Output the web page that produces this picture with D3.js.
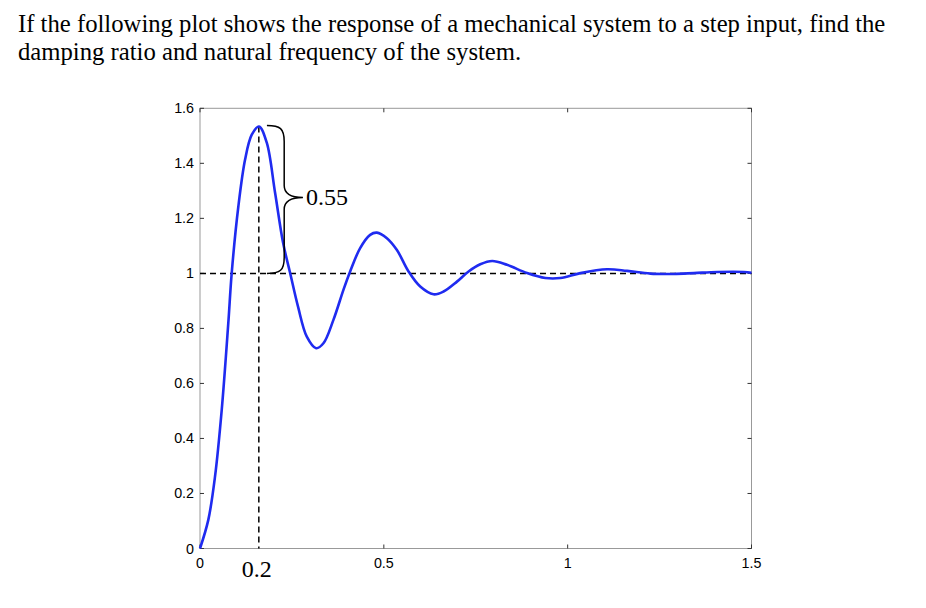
<!DOCTYPE html>
<html><head><meta charset="utf-8">
<script src="https://cdn.jsdelivr.net/npm/d3@7"></script>
<style>
html,body{margin:0;padding:0;background:#fff;}
svg{display:block;}
</style></head>
<body>
<svg id="c" width="926" height="608"></svg>
<script>
// ---- data ----
const titleLines = [
  "If the following plot shows the response of a mechanical system to a step input, find the",
  "damping ratio and natural frequency of the system."
];
const timeValues = [0,0.0226,0.0408,0.0591,0.0770,0.0863,0.1043,0.1225,0.1408,0.1606,0.1816,0.2042,0.2260,0.2450,0.2668,0.2905,0.3158,0.3357,0.3629,0.3901,0.4084,0.4356,0.4628,0.4811,0.5083,0.5356,0.5672,0.5990,0.6352,0.6624,0.6989,0.7305,0.7623,0.7950,0.8350,0.8895,0.9393,0.9803,1.0347,1.1073,1.1617,1.2251,1.2886,1.3431,1.4068,1.4792,1.5];
const responseValues = [0,0.104,0.261,0.504,0.820,1.002,1.243,1.413,1.504,1.534,1.475,1.293,1.111,1.002,0.878,0.770,0.728,0.746,0.831,0.940,1.007,1.092,1.140,1.148,1.128,1.085,1.007,0.952,0.924,0.934,0.970,1.007,1.033,1.045,1.031,1.001,0.983,0.983,1.001,1.015,1.009,0.999,0.998,1.001,1.005,1.005,1.002];
const xTicks = [0,0.5,1,1.5];
const xTickLabels = ["0","0.5","1","1.5"];
const yTicks = [0,0.2,0.4,0.6,0.8,1,1.2,1.4,1.6];
const yTickLabels = ["0","0.2","0.4","0.6","0.8","1","1.2","1.4","1.6"];
const finalValue = 1;
const peakTime = 0.16;
const peakValue = 1.534;
const peakTimeLabel = "0.2";
const overshootLabel = "0.55";

// ---- layout ----
const svg = d3.select("#c");
const L = 200, R = 751.5, T = 108.3, B = 548.5;
const x = d3.scaleLinear().domain([0,1.5]).range([L,R]);
const y = d3.scaleLinear().domain([0,1.6]).range([B,T]);
const serif = "'Times New Roman','Liberation Serif',serif";
const sans = "Helvetica,Arial,'Liberation Sans',sans-serif";

// title
svg.selectAll("text.title").data(titleLines).enter().append("text")
  .attr("class","title")
  .attr("x",18).attr("y",(d,i)=>32+i*28)
  .attr("font-family",serif).attr("font-size",24.7).attr("fill","#000")
  .text(d=>d);

// frame
svg.append("rect").attr("x",L).attr("y",T).attr("width",R-L).attr("height",B-T)
  .attr("fill","none").attr("stroke","#999").attr("stroke-width",1);

// ticks (inward on all sides)
const tk = 4;
const g = svg.append("g").attr("stroke","#333").attr("stroke-width",1);
xTicks.forEach(v=>{
  g.append("line").attr("x1",x(v)).attr("x2",x(v)).attr("y1",B).attr("y2",B-tk);
  g.append("line").attr("x1",x(v)).attr("x2",x(v)).attr("y1",T).attr("y2",T+tk);
});
yTicks.forEach(v=>{
  g.append("line").attr("x1",L).attr("x2",L+tk).attr("y1",y(v)).attr("y2",y(v));
  g.append("line").attr("x1",R).attr("x2",R-tk).attr("y1",y(v)).attr("y2",y(v));
});

// tick labels
svg.selectAll("text.xl").data(xTicks).enter().append("text")
  .attr("x",d=>x(d)).attr("y",B+19).attr("text-anchor","middle")
  .attr("font-family",sans).attr("font-size",14.3).attr("fill","#000")
  .text((d,i)=>xTickLabels[i]);
svg.selectAll("text.yl").data(yTicks).enter().append("text")
  .attr("x",L-6).attr("y",d=>y(d)+5).attr("text-anchor","end")
  .attr("font-family",sans).attr("font-size",14.3).attr("fill","#000")
  .text((d,i)=>yTickLabels[i]);

// dashed reference lines
svg.append("line").attr("x1",x(0)).attr("x2",x(1.5)).attr("y1",y(finalValue)).attr("y2",y(finalValue))
  .attr("stroke","#000").attr("stroke-width",1.5).attr("stroke-dasharray","6,4");
svg.append("line").attr("x1",x(peakTime)).attr("x2",x(peakTime)).attr("y1",y(peakValue)).attr("y2",y(0))
  .attr("stroke","#000").attr("stroke-width",1.5).attr("stroke-dasharray","6,4");

// response curve
const line = d3.line().x((d,i)=>x(timeValues[i])).y(d=>y(d)).curve(d3.curveCatmullRom);
svg.append("path").datum(responseValues).attr("d",line)
  .attr("fill","none").attr("stroke","#1f2bf0").attr("stroke-width",2.6).attr("stroke-linejoin","round");

// brace
const x0 = x(0.182), x1 = x(0.229), xt = x(0.28);
const yt = y(peakValue)-1, yb = y(finalValue), ym = (yt+yb)/2 - 2;
const p = d3.path();
p.moveTo(x0,yt);
p.bezierCurveTo(x1-4,yt, x1,yt+3, x1,yt+16);
p.lineTo(x1,ym-12);
p.bezierCurveTo(x1,ym-3, xt-10,ym, xt,ym);
p.bezierCurveTo(xt-10,ym, x1,ym+3, x1,ym+12);
p.lineTo(x1,yb-16);
p.bezierCurveTo(x1,yb-3, x1-4,yb, x0,yb);
svg.append("path").attr("d",p.toString()).attr("fill","none").attr("stroke","#000").attr("stroke-width",1.5);

svg.append("text").attr("x",xt+3).attr("y",ym+8)
  .attr("font-family",serif).attr("font-size",24).attr("fill","#000").text(overshootLabel);
svg.append("text").attr("x",x(peakTime)-2).attr("y",577).attr("text-anchor","middle")
  .attr("font-family",serif).attr("font-size",24).attr("fill","#000").text(peakTimeLabel);
</script>
</body></html>
